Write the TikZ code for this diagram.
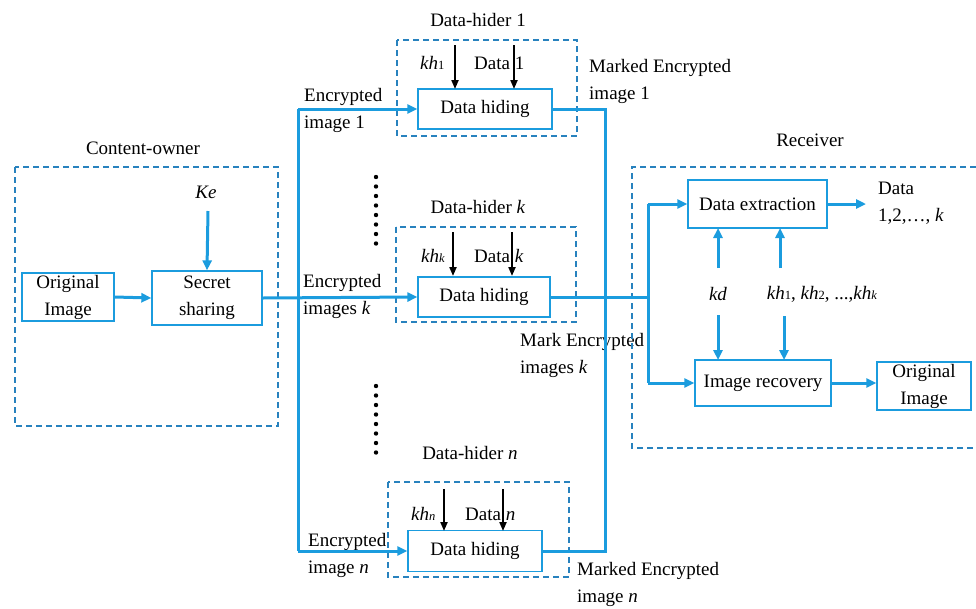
\documentclass[tikz,border=0pt]{standalone}
\usepackage{fontspec}
\setmainfont{Liberation Serif}
\usetikzlibrary{arrows.meta}
\definecolor{lblue}{RGB}{27,156,222}
\definecolor{dblue}{RGB}{40,130,190}
\tikzset{
  box/.style={draw=lblue, line width=1.3pt, minimum width=#1, align=center, inner sep=0pt},
  dbox/.style={draw=dblue, line width=1.3pt, dash pattern=on 6pt off 4pt},
  bl/.style={draw=lblue, line width=3pt},
  barr/.style={bl, -{Triangle[length=10pt,width=9pt]}},
  karr/.style={draw=black, line width=2pt, -{Triangle[length=9pt,width=7pt]}},
  lbl/.style={inner sep=0pt, align=left},
}
\newcommand{\sbn}[1]{{\fontsize{12.5}{12.5}\selectfont #1}}
\begin{document}
\begin{tikzpicture}[x=1pt,y=-1pt,font=\rmfamily\fontsize{19}{27}\selectfont]
\useasboundingbox (0,0) rectangle (976,608);
% content owner
\draw[dbox] (15,167) rectangle (278,426);
\node (co) at (143,148) {Content-owner};
\node[box=92pt, minimum height=48pt] (orig) at (68,297) {Original\\Image};
\node[box=110pt, minimum height=54pt] (secret) at (207,298) {Secret\\sharing};
\node (ke) at (206,192) {\textit{Ke}};
\draw[barr] (208,211) -- (secret.north);
\draw[barr] (orig.east) -- (secret.west);

% data hider 1
\draw[dbox] (397,40) rectangle (577,136);
\node (dh1lbl) at (478,20) {Data-hider 1};
\node[box=134pt, minimum height=40pt] (dh1) at (485,109) {Data hiding};
\node[lbl, anchor=base west] (kh1) at (420,69) {\textit{kh}\sbn{1}};
\node[lbl, anchor=base west] (d1) at (474,69) {Data 1};
\draw[karr] (455,45) -- (455,89);
\draw[karr] (514,45) -- (514,89);
\node[lbl, anchor=north west] (e1) at (304,88) {Encrypted\\image 1};
\node[lbl, anchor=north west] (m1) at (589,59) {Marked Encrypted\\image 1};

% data hider k
\draw[dbox] (396,227) rectangle (576,322);
\node (dhklbl) at (478,207) {Data-hider \textit{k}};
\node[box=132pt, minimum height=40pt] (dhk) at (484,297) {Data hiding};
\node[lbl, anchor=base west] (khk) at (421,262) {\textit{kh}\sbn{\textit{k}}};
\node[lbl, anchor=base west] (dk) at (474,262) {Data \textit{k}};
\draw[karr] (453,232) -- (453,276);
\draw[karr] (512,232) -- (512,276);
\node[lbl, anchor=north west] (ek) at (303,274) {Encrypted\\images \textit{k}};
\node[lbl, anchor=north west] (mk) at (520,333) {Mark Encrypted\\images \textit{k}};

% data hider n
\draw[dbox] (388,482) rectangle (569,577);
\node (dhnlbl) at (470,453) {Data-hider \textit{n}};
\node[box=134pt, minimum height=41pt] (dhn) at (475,551) {Data hiding};
\node[lbl, anchor=base west] (khn) at (411,520) {\textit{kh}\sbn{\textit{n}}};
\node[lbl, anchor=base west] (dn) at (465,520) {Data \textit{n}};
\draw[karr] (444,489) -- (444,531);
\draw[karr] (503,489) -- (503,531);
\node[lbl, anchor=north west] (en) at (308,533) {Encrypted\\image \textit{n}};
\node[lbl, anchor=north west] (mn) at (577,562) {Marked Encrypted\\image \textit{n}};

% dots
\foreach \yy in {177,186.5,...,245} \fill (376,\yy) circle (2.2pt);
\foreach \yy in {386,395.5,...,458} \fill (376,\yy) circle (2.2pt);

% left bus
\coordinate (b1) at (298,109);
\coordinate (bn) at (298,551);
\draw[bl] (b1) -- (bn);
\draw[barr] (b1) -- (dh1.west);
\draw[barr] (bn) -- (dhn.west);
\draw[barr] (secret.east) -- (dhk.west);

% right bus
\coordinate (c1) at (605,109);
\coordinate (cn) at (605,551);
\draw[bl] (dh1.east) -- (c1) -- (cn) -- (dhn.east);

% receiver
\draw[dbox] (976,167) -- (632,167) -- (632,448) -- (976,448);
\node (rl) at (810,140) {Receiver};
\node[box=139pt, minimum height=48pt] (dext) at (757.5,204) {Data extraction};
\node[box=136pt, minimum height=46pt] (irec) at (763,383) {Image recovery};
\node[box=94pt, minimum height=48pt] (orig2) at (924,386) {Original\\Image};
\coordinate (r0) at (648,297);
\coordinate (r1) at (648,204);
\coordinate (r2) at (648,383);
\draw[bl] (dhk.east) -- (r0);
\draw[bl] (r1) -- (r2);
\draw[barr] (r1) -- (dext.west);
\draw[barr] (r2) -- (irec.west);
\node[lbl, anchor=north west] (dout) at (878,182) {Data\\1,2,\dots, \textit{k}};
\draw[barr] (dext.east) -- (866,204);
\draw[barr] (irec.east) -- (irec.east -| orig2.west);
\node (kd) at (718,294) {\textit{kd}};
\node (khs) at (822,294) {\textit{kh}\sbn{1}, \textit{kh}\sbn{2}, ...,\textit{kh}\sbn{\textit{k}}};
\draw[barr] (718,268) -- (718,228);
\draw[barr] (780,268) -- (780,228);
\draw[barr] (718,315) -- (718,360);
\draw[barr] (784,316) -- (784,360);
\end{tikzpicture}
\end{document}
